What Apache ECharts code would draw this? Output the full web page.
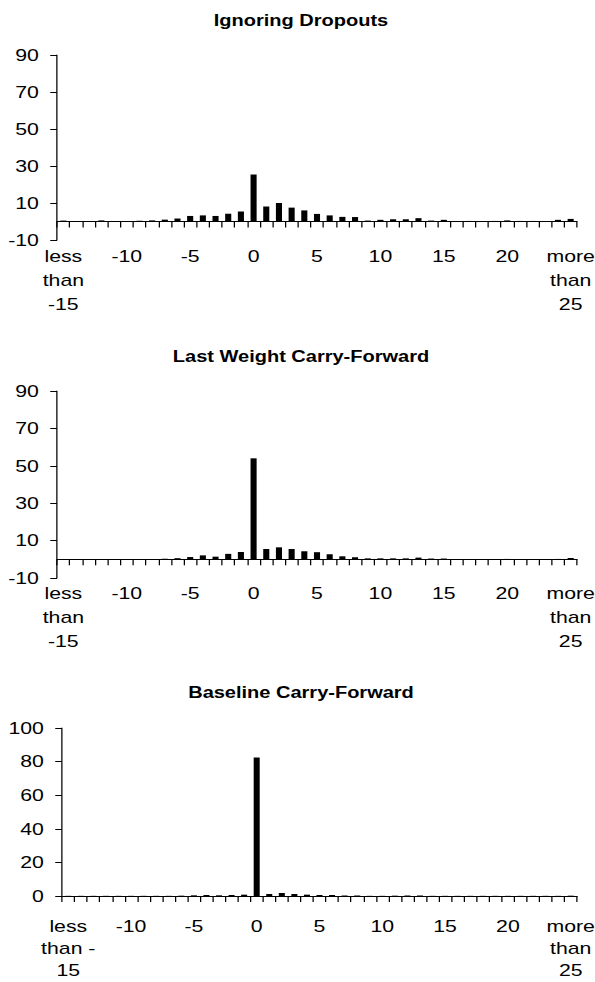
<!DOCTYPE html>
<html>
<head>
<meta charset="utf-8">
<script src="https://cdn.jsdelivr.net/npm/echarts@6/dist/echarts.min.js"></script>
<style>
  html, body { margin: 0; padding: 0; background: #fff; }
  /* the original figure is stretched wide, so draw narrow and scale x */
  #main { width: 476px; height: 982px; transform: scaleX(1.25); transform-origin: 0 0; }
</style>
</head>
<body>
<div id="main"></div>
<script>
// weight change bins
const categories = [
  "less than -15", "-14", "-13", "-12", "-11", "-10", "-9", "-8", "-7", "-6",
  "-5", "-4", "-3", "-2", "-1", "0", "1", "2", "3", "4",
  "5", "6", "7", "8", "9", "10", "11", "12", "13", "14",
  "15", "16", "17", "18", "19", "20", "21", "22", "23", "24",
  "more than 25",
];

const titles = [
  "Ignoring Dropouts",
  "Last Weight Carry-Forward",
  "Baseline Carry-Forward",
];

const ignoringDropouts = [
  0.5, 0, 0, 0.6, 0, 0, 0.4, 0.6, 1.0, 1.6,
  3.0, 3.3, 3.0, 4.2, 5.4, 25.4, 8.1, 10.0, 7.5, 6.0,
  4.1, 3.3, 2.5, 2.4, 0.5, 0.9, 1.2, 1.2, 1.8, 0.5,
  0.9, 0, 0.3, 0, 0.3, 0.6, 0.3, 0.3, 0, 0.9,
  1.4,
];

const lastWeightCF = [
  0, 0, 0, 0.1, 0, 0, 0.1, 0.1, 0.3, 0.6,
  1.2, 2.1, 1.4, 2.9, 3.9, 54, 5.5, 6.4, 5.5, 4.3,
  3.8, 2.7, 1.6, 1.1, 0.5, 0.5, 0.5, 0.5, 0.9, 0.4,
  0.4, 0.1, 0.1, 0.1, 0.1, 0.2, 0.1, 0.1, 0.1, 0.2,
  0.7,
];

const baselineCF = [
  0.1, 0.1, 0.1, 0.1, 0.1, 0.1, 0.1, 0.1, 0.1, 0.2,
  0.4, 0.6, 0.4, 0.6, 0.8, 82.5, 1.2, 1.8, 1.2, 0.8,
  0.6, 0.6, 0.3, 0.3, 0.1, 0.1, 0.2, 0.3, 0.3, 0.1,
  0.1, 0.1, 0.1, 0.1, 0.1, 0.1, 0.1, 0.1, 0.1, 0.1,
  0.2,
];

const yTicksTop = [-10, 10, 30, 50, 70, 90];
const yTicksBottom = [0, 20, 40, 60, 80, 100];

const font = "Liberation Sans, Arial, Helvetica, sans-serif";

// panel layout (x in unscaled units)
const panels = [
  { data: ignoringDropouts, ticks: yTicksTop, left: 45.6, width: 416, top: 55, height: 185, titleTop: 12.5, labelMargin: 4.5, lineHeight: 24 },
  { data: lastWeightCF, ticks: yTicksTop, left: 45.6, width: 416, top: 391, height: 187, titleTop: 349, labelMargin: 3.5, lineHeight: 24 },
  { data: baselineCF, ticks: yTicksBottom, left: 49.6, width: 412, top: 728, height: 168, titleTop: 685, labelMargin: 19, lineHeight: 22 },
];

const wrapLabel = (value, last) => {
  if (last && value === "less than -15") return "less\nthan -\n15";
  return value.split(" ").join("\n");
};

const myChart = echarts.init(document.getElementById("main"), null, { renderer: "svg" });

const option = {
  animation: false,
  backgroundColor: "#fff",
  title: panels.map((p, i) => ({
    text: titles[i],
    left: 240.8,
    textAlign: "center",
    top: p.titleTop,
    padding: 0,
    textStyle: { fontFamily: font, fontSize: 16, fontWeight: "bold", color: "#000" },
  })),
  // keep grids where they are even when labels run to the page edge
  grid: panels.map((p) => ({
    left: p.left,
    width: p.width,
    top: p.top,
    height: p.height,
    containLabel: false,
    outerBoundsMode: "none",
  })),
  xAxis: panels.map((p, i) => ({
    type: "category",
    gridIndex: i,
    data: categories,
    boundaryGap: true,
    axisLine: { onZero: true, lineStyle: { color: "#000", width: 1 } },
    axisTick: { show: true, interval: 0, alignWithLabel: false, length: 6, lineStyle: { color: "#000", width: 1 } },
    axisLabel: {
      interval: 4,
      margin: p.labelMargin,
      fontFamily: font,
      fontSize: 17,
      lineHeight: p.lineHeight,
      color: "#000",
      formatter: (v) => wrapLabel(v, i === 2),
    },
    splitLine: { show: false },
  })),
  yAxis: panels.map((p, i) => ({
    type: "value",
    gridIndex: i,
    min: p.ticks[0],
    max: p.ticks[p.ticks.length - 1],
    axisLine: { show: true, onZero: false, lineStyle: { color: "#000", width: 1 } },
    axisTick: { show: true, length: 5.4, customValues: p.ticks, lineStyle: { color: "#000", width: 1 } },
    axisLabel: {
      customValues: p.ticks,
      margin: 14.5,
      fontFamily: font,
      fontSize: 17,
      color: "#000",
    },
    splitLine: { show: false },
  })),
  series: panels.map((p, i) => ({
    type: "bar",
    xAxisIndex: i,
    yAxisIndex: i,
    data: p.data,
    barWidth: "48%",
    itemStyle: { color: "#000" },
  })),
};

myChart.setOption(option);
</script>
</body>
</html>
